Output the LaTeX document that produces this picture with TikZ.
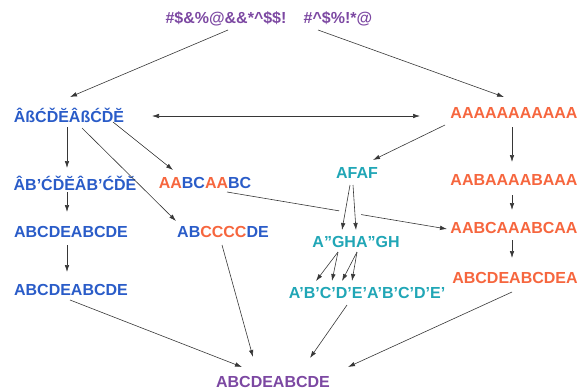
\documentclass[tikz,border=0pt]{standalone}
\usepackage{fontspec}
\setmainfont{Liberation Sans}
\usepackage{tikz}
\usetikzlibrary{calc}
\usetikzlibrary{arrows.meta}
\definecolor{blu}{RGB}{42,92,200}
\definecolor{orng}{RGB}{246,102,62}
\definecolor{tel}{RGB}{32,166,182}
\definecolor{purp}{RGB}{124,72,162}
\definecolor{lin}{RGB}{55,55,55}
\tikzset{lbl/.style={inner sep=2pt, font=\bfseries\fontsize{16}{18}\selectfont}}

\begin{document}
\begin{tikzpicture}[x={(1pt,0)}, y={(0,-1pt)}, >={Latex[length=7pt,width=4.5pt]}, color=lin, line width=0.6pt]
\useasboundingbox (0,0) rectangle (580,391);

\node[lbl, purp] (top1) at (226,19) {\#\$\&\%@\&\&*\textasciicircum\$\$!};
\node[lbl, purp] (top2) at (338,19) {\#\textasciicircum\$\%!*@};

\node[lbl, blu] (left1) at (69,115) {ÂßĆĎĔÂßĆĎĔ};
\node[lbl, blu] (left2) at (75,183) {ÂB’ĆĎĔÂB’ĆĎĔ};
\node[lbl, blu] (left3) at (71,232) {ABCDEABCDE};
\node[lbl, blu] (left4) at (71,290) {ABCDEABCDE};

\node[lbl, blu] (mid1) at (205,183) {{\color{orng}AA}BC{\color{orng}AA}BC};
\node[lbl, blu] (mid2) at (223,232) {AB{\color{orng}CCCC}DE};

\node[lbl, tel] (afaf) at (357,173) {AFAF};
\node[lbl, tel] (agh) at (356,242) {A”GHA”GH};
\node[lbl, tel] (abcp) at (367,293) {A’B’C’D’E’A’B’C’D’E’};

\node[lbl, orng] (R1) at (514,113) {AAAAAAAAAAA};
\node[lbl, orng] (R2) at (514,180) {AABAAAABAAA};
\node[lbl, orng] (R3) at (514,228) {AABCAAABCAA};
\node[lbl, orng] (R4) at (515,278) {ABCDEABCDEA};

\node[lbl, purp] (bot) at (273,382) {ABCDEABCDE};

% top
\draw[->] ($(top1)+(2,11)$) -- ($(left1)+(1,-18)$);
\draw[->] ($(top2)+(-20,11)$) -- ($(R1)+(-10,-16)$);
\draw[<->] ($(left1)+(83,1)$) -- ($(R1)+(-94,3)$);

% left side
\draw[->] ($(left1)+(-2,12)$) -- ($(left2)+(-8,-15)$);
\draw[->] ($(left2)+(-8,9)$) -- ($(left3)+(-4,-20)$);
\draw[->] ($(left3)+(-4,13)$) -- ($(left4)+(-4,-18)$);
\draw[->] ($(left1)+(44,7)$) -- ($(mid1)+(-32,-13)$);
\draw[->] ($(left1)+(13,13)$) -- ($(mid2)+(-47,-11)$);

% middle
\draw[->] ($(R1)+(-69,12)$) -- ($(afaf)+(16,-13)$);
\draw[->] ($(mid1)+(22,9)$) -- ($(R3)+(-67,1)$);
\draw[white, line width=12pt] ($(afaf)+(-7,12)$) -- ($(agh)+(-14,-12)$)
  ($(afaf)+(-4,12)$) -- ($(agh)+(0,-12)$);
\draw[->] ($(afaf)+(-7,12)$) -- ($(agh)+(-14,-12)$);
\draw[->] ($(afaf)+(-4,12)$) -- ($(agh)+(0,-12)$);
\draw[->] ($(agh)+(-18,10)$) -- ($(abcp)+(-51,-12)$);
\draw[->] ($(agh)+(-18,10)$) -- ($(abcp)+(-35,-12)$);
\draw[->] ($(agh)+(1,10)$) -- ($(abcp)+(-25,-12)$);
\draw[->] ($(agh)+(1,10)$) -- ($(abcp)+(-15,-12)$);

% right side
\draw[->] ($(R1)+(-2,14)$) -- ($(R2)+(-2,-18)$);
\draw[->] ($(R2)+(-2,15)$) -- ($(R3)+(-2,-18)$);
\draw[->] ($(R3)+(-2,12)$) -- ($(R4)+(-3,-20)$);

% bottom
\draw[->] ($(left4)+(-1,10)$) -- ($(bot)+(-31,-15)$);
\draw[->] ($(mid2)+(-1,13)$) -- ($(bot)+(-20,-25)$);
\draw[->] ($(abcp)+(-20,12)$) -- ($(bot)+(37,-24)$);
\draw[->] ($(R4)+(-3,14)$) -- ($(bot)+(75,-15)$);

\end{tikzpicture}
\end{document}
